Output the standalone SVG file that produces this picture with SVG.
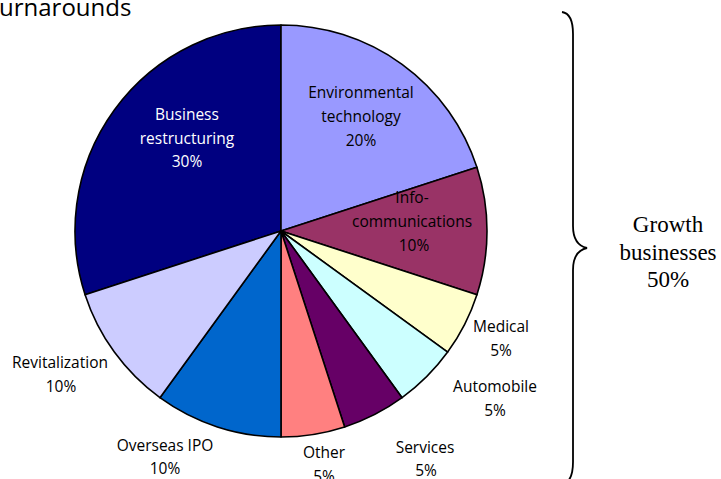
<svg xmlns="http://www.w3.org/2000/svg" width="721" height="479" viewBox="0 0 721 479">
<style>
.sl{stroke:#000;stroke-width:1.6;stroke-linejoin:round}
.lb{font-family:"Open Sans","Liberation Sans",sans-serif;font-size:15.5px;fill:#000;text-anchor:middle}
.wh{fill:#fff}
.gr{font-family:"Liberation Serif","Times New Roman",serif;font-size:23px;fill:#000;text-anchor:middle}
</style>
<rect width="721" height="479" fill="#fff"/>
<text x="-1" y="16" font-family="'Open Sans','Liberation Sans',sans-serif" font-size="24" fill="#000">urnarounds</text>
<g id="pie">
<g id="business-restructuring">
<path class="sl" fill="#000080" d="M281,231 L85.08,294.66 A206,206 0 0 1 281,25 Z"/>
<text class="lb wh" x="187" y="120">Business</text>
<text class="lb wh" x="187" y="144">restructuring</text>
<text class="lb wh" x="187" y="167">30%</text>
</g>
<g id="environmental-technology">
<path class="sl" fill="#9999FF" d="M281,231 L281,25 A206,206 0 0 1 476.92,167.34 Z"/>
<text class="lb" x="361" y="98">Environmental</text>
<text class="lb" x="361" y="122">technology</text>
<text class="lb" x="361" y="146">20%</text>
</g>
<g id="info-communications">
<path class="sl" fill="#993366" d="M281,231 L476.92,167.34 A206,206 0 0 1 476.92,294.66 Z"/>
<text class="lb" x="412" y="203">Info-</text>
<text class="lb" x="412" y="227">communications</text>
<text class="lb" x="414" y="251">10%</text>
</g>
<g id="medical">
<path class="sl" fill="#FFFFCC" d="M281,231 L476.92,294.66 A206,206 0 0 1 447.66,352.08 Z"/>
<text class="lb" x="501" y="332">Medical</text>
<text class="lb" x="501" y="356">5%</text>
</g>
<g id="automobile">
<path class="sl" fill="#CCFFFF" d="M281,231 L447.66,352.08 A206,206 0 0 1 402.08,397.66 Z"/>
<text class="lb" x="495" y="392">Automobile</text>
<text class="lb" x="495" y="416">5%</text>
</g>
<g id="services">
<path class="sl" fill="#660066" d="M281,231 L402.08,397.66 A206,206 0 0 1 344.66,426.92 Z"/>
<text class="lb" x="425" y="453">Services</text>
<text class="lb" x="426" y="476">5%</text>
</g>
<g id="other">
<path class="sl" fill="#FF8080" d="M281,231 L344.66,426.92 A206,206 0 0 1 281,437 Z"/>
<text class="lb" x="324" y="458">Other</text>
<text class="lb" x="324" y="482">5%</text>
</g>
<g id="overseas-ipo">
<path class="sl" fill="#0066CC" d="M281,231 L281,437 A206,206 0 0 1 159.92,397.66 Z"/>
<text class="lb" x="165" y="451">Overseas IPO</text>
<text class="lb" x="165" y="474">10%</text>
</g>
<g id="revitalization">
<path class="sl" fill="#CCCCFF" d="M281,231 L159.92,397.66 A206,206 0 0 1 85.08,294.66 Z"/>
<text class="lb" x="60" y="368">Revitalization</text>
<text class="lb" x="61" y="392">10%</text>
</g>
</g>
<g id="connectors">
<path id="brace" fill="none" stroke="#000" stroke-width="1.8" d="M562,12 C569,13 573,19 573,34 L573,226 C573,240 578,246 587,248 C578,250 573,256 573,270 L573,462 C573,477 569,483 562,484"/>
</g>
<g id="growth-businesses">
<text class="gr" x="668" y="232">Growth</text>
<text class="gr" x="668" y="260">businesses</text>
<text class="gr" x="668" y="287">50%</text>
</g>
</svg>
